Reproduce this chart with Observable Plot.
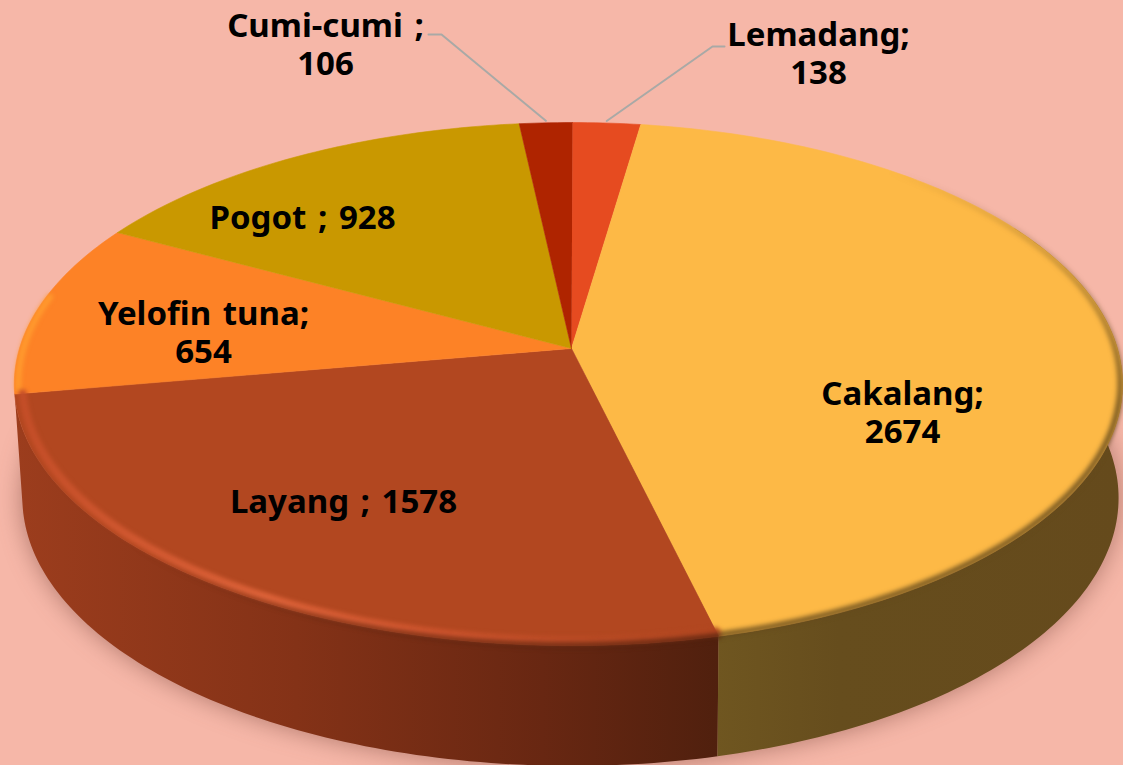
<!DOCTYPE html>
<html>
<head>
<meta charset="utf-8">
<script src="https://cdn.jsdelivr.net/npm/d3@7"></script>
<script src="https://cdn.jsdelivr.net/npm/@observablehq/plot@0.6"></script>
<style>
html,body{margin:0;padding:0;background:#F6B7A8;overflow:hidden}
svg{display:block}
svg text{word-spacing:3px}
</style>
</head>
<body>
<script>
// Chart values
const categories = ["Lemadang", "Cakalang", "Layang", "Yelofin tuna", "Pogot", "Cumi-cumi"];
const values = [138, 2674, 1578, 654, 928, 106];
const colors = ["#E64B20", "#FDB946", "#B24720", "#FD8226", "#C99800", "#AF2400"];
const labelTexts = ["Lemadang;\n138", "Cakalang;\n2674", "Layang ; 1578", "Yelofin tuna;\n654", "Pogot ; 928", "Cumi-cumi ;\n106"];
// Label layout (page pixels)
const labelX = [818, 902, 343, 203, 302, 325];
const labelY = [52, 411, 500, 331, 216, 43];
const leaderElbowX = [712, null, null, null, null, 441];
const leaderElbowY = [46, null, null, null, null, 34];
const leaderEndX = [724, null, null, null, null, 428];

// Pie geometry: a perspective projection of the circular pie
const W = 1123, H = 765;
const persp = 0.136;
const topDisc = {cx: 572, cy: 348, rxL: 553, rxR: 545, ry: 256.7};
const botDisc = {cx: 572, cy: 461, rxL: 545, rxR: 541, ry: 263};
function project(deg, disc, f = 1) {
  const a = deg * Math.PI / 180, u = f * Math.sin(a), v = -f * Math.cos(a), w = 1 - persp * v;
  return {x: disc.cx + (u < 0 ? disc.rxL : disc.rxR) * u / w, y: disc.cy + disc.ry * v / w};
}
function arcPts(a0, a1, disc, f = 1) {
  const n = Math.max(2, Math.ceil(Math.abs(a1 - a0)));
  return d3.range(n + 1).map(i => project(a0 + (a1 - a0) * i / n, disc, f));
}
const arcs = d3.pie().sort(null).startAngle(0).endAngle(2 * Math.PI)(values).map((d, i) => ({
  name: categories[i], a0: d.startAngle * 180 / Math.PI, a1: d.endAngle * 180 / Math.PI, i
}));
const byName = Object.fromEntries(arcs.map(d => [d.name, d]));

// Top-face wedges
const wedges = arcs.flatMap(d =>
  [{x: topDisc.cx - 1, y: topDisc.cy}, ...arcPts(d.a0, d.a1, topDisc)].map(p => ({...p, name: d.name})));
// Side walls
const cak = byName["Cakalang"], lay = byName["Layang"];
const wall = (a0, a1) => [...arcPts(a0, a1, topDisc), ...arcPts(a0, a1, botDisc).reverse()];
const wallCak = wall(60, cak.a1);
const wallLay = wall(lay.a0, lay.a1);
const silhouette = arcPts(70, 290, botDisc);
// Bevel rims
const rimCak = arcPts(40, cak.a1, topDisc, 0.996);
const rimLay = arcPts(lay.a0, lay.a1, topDisc, 0.986);
const rimLayDark = arcPts(lay.a0, lay.a0 + 60, topDisc, 0.999);
const rimYel = arcPts(lay.a1 + 1, lay.a1 + 22, topDisc, 0.993);

// Labels and leaders
const labels = labelTexts.map((text, i) => ({text, x: labelX[i], y: labelY[i]}));
const leaders = arcs.filter(d => leaderElbowX[d.i] != null).flatMap(d => {
  const p = project((d.a0 + d.a1) / 2 + (d.a0 > 180 ? -360 : 0), topDisc);
  return [
    {x: p.x, y: p.y - 2, name: d.name},
    {x: leaderElbowX[d.i], y: leaderElbowY[d.i], name: d.name},
    {x: leaderEndX[d.i], y: leaderElbowY[d.i], name: d.name}
  ];
});

const defs = () => {
  const g = d3.create("svg:defs");
  g.html(`
    <linearGradient id="sideLay" x1="0" x2="1" y1="0" y2="0">
      <stop offset="0" stop-color="#9c3d1d"/><stop offset="0.4" stop-color="#843217"/>
      <stop offset="0.75" stop-color="#682712"/><stop offset="1" stop-color="#50200E"/>
    </linearGradient>
    <linearGradient id="sideCak" x1="0" x2="1" y1="0" y2="0">
      <stop offset="0" stop-color="#6F5620"/><stop offset="0.3" stop-color="#664D1D"/>
      <stop offset="1" stop-color="#654A1C"/>
    </linearGradient>
    <linearGradient id="rimLay" x1="0" x2="1" y1="0" y2="0">
      <stop offset="0" stop-color="#C44E28"/><stop offset="0.35" stop-color="#E0643A"/>
      <stop offset="0.6" stop-color="#D0552E"/><stop offset="0.8" stop-color="#BC4C26"/>
      <stop offset="1" stop-color="#B24720"/>
    </linearGradient>
    <linearGradient id="rimDark" x1="0" x2="1" y1="0" y2="0">
      <stop offset="0" stop-color="#50200E" stop-opacity="0"/>
      <stop offset="0.4" stop-color="#50200E" stop-opacity="0.5"/>
      <stop offset="1" stop-color="#50200E" stop-opacity="0.9"/>
    </linearGradient>
    <linearGradient id="rimCak" x1="0" x2="0" y1="0" y2="1">
      <stop offset="0" stop-color="#654A1C" stop-opacity="0"/>
      <stop offset="0.3" stop-color="#654A1C" stop-opacity="0.55"/>
      <stop offset="0.5" stop-color="#654A1C" stop-opacity="1"/>
      <stop offset="1" stop-color="#654A1C" stop-opacity="1"/>
    </linearGradient>`);
  return g.node();
};

const line = (data, o) => Plot.line(data, {x: "x", y: "y", curve: "linear", ...o});

const chart = Plot.plot({
  width: W, height: H,
  margin: 0,
  style: {background: "transparent", overflow: "hidden"},
  x: {domain: [0, W], range: [0, W], axis: null},
  y: {domain: [0, H], range: [0, H], axis: null},
  color: {domain: categories, range: colors},
  marks: [
    defs,
    line(silhouette, {fill: "#6a3a30", fillOpacity: 0.5, stroke: "none", imageFilter: "blur(12px)"}),
    line(wallLay, {fill: "url(#sideLay)", stroke: "none"}),
    line(wallCak, {fill: "url(#sideCak)", stroke: "none"}),
    line(wedges, {z: "name", fill: "name", stroke: "name", strokeWidth: 0.6}),
    line(rimCak, {stroke: "url(#rimCak)", strokeWidth: 5, imageFilter: "blur(2.5px)"}),
    line(rimYel, {stroke: "#FF9A2E", strokeWidth: 6, imageFilter: "blur(2px)"}),
    line(rimLay, {stroke: "url(#rimLay)", strokeWidth: 8, imageFilter: "blur(2px)"}),
    line(rimLayDark, {stroke: "url(#rimDark)", strokeWidth: 5, imageFilter: "blur(2.5px)"}),
    line(leaders, {z: "name", stroke: "#A9A9A6", strokeWidth: 2}),
    Plot.text(labels, {
      x: "x", y: "y", text: "text",
      fontFamily: "'Noto Sans', sans-serif", fontWeight: 700, fontSize: 33,
      lineHeight: 1.18, fill: "#000", textAnchor: "middle"
    })
  ]
});
document.body.appendChild(chart);
</script>
</body>
</html>
